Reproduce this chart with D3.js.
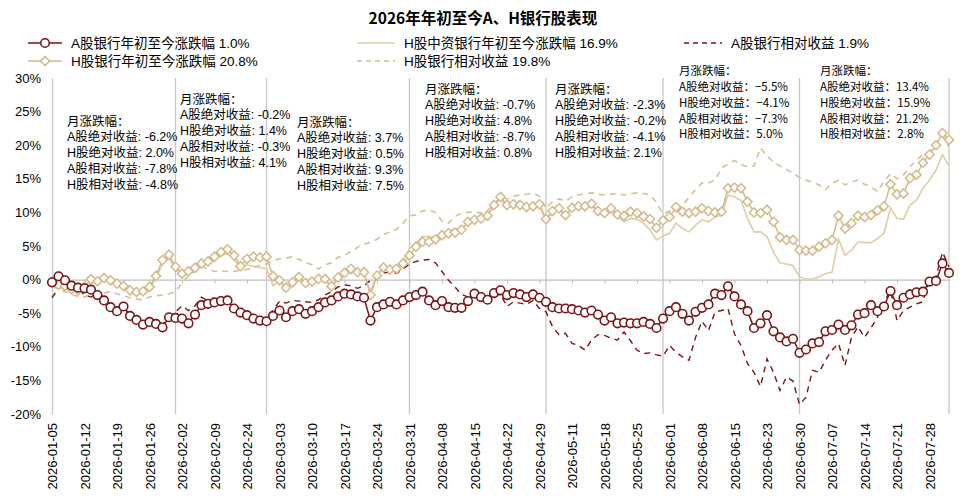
<!DOCTYPE html>
<html lang="zh">
<head>
<meta charset="utf-8">
<title>2026年年初至今A、H银行股表现</title>
<script src="https://cdn.jsdelivr.net/npm/d3@7"></script>
<style>
  body { margin: 0; background: #fff; }
  text { font-family: "Liberation Sans", Arial, "Noto Sans CJK SC", sans-serif; fill: #000; }
</style>
</head>
<body>
<script>
// trading days (category axis)
var dates = [
  "2026-01-05","2026-01-06","2026-01-07","2026-01-08","2026-01-09","2026-01-12","2026-01-13","2026-01-14","2026-01-15","2026-01-16",
  "2026-01-19","2026-01-20","2026-01-21","2026-01-22","2026-01-23","2026-01-26","2026-01-27","2026-01-28","2026-01-29","2026-01-30",
  "2026-02-02","2026-02-03","2026-02-04","2026-02-05","2026-02-06","2026-02-09","2026-02-10","2026-02-11","2026-02-12","2026-02-13",
  "2026-02-24","2026-02-25","2026-02-26","2026-02-27",
  "2026-03-02","2026-03-03","2026-03-04","2026-03-05","2026-03-06","2026-03-09","2026-03-10","2026-03-11","2026-03-12","2026-03-13",
  "2026-03-16","2026-03-17","2026-03-18","2026-03-19","2026-03-20","2026-03-23","2026-03-24","2026-03-25","2026-03-26","2026-03-27",
  "2026-03-30","2026-03-31",
  "2026-04-01","2026-04-02","2026-04-03","2026-04-07","2026-04-08","2026-04-09","2026-04-10","2026-04-13","2026-04-14","2026-04-15",
  "2026-04-16","2026-04-17","2026-04-20","2026-04-21","2026-04-22","2026-04-23","2026-04-24","2026-04-27","2026-04-28","2026-04-29",
  "2026-04-30",
  "2026-05-06","2026-05-07","2026-05-08","2026-05-11","2026-05-12","2026-05-13","2026-05-14","2026-05-15","2026-05-18","2026-05-19",
  "2026-05-20","2026-05-21","2026-05-22","2026-05-25","2026-05-26","2026-05-27","2026-05-28","2026-05-29",
  "2026-06-01","2026-06-02","2026-06-03","2026-06-04","2026-06-05","2026-06-08","2026-06-09","2026-06-10","2026-06-11","2026-06-12",
  "2026-06-15","2026-06-16","2026-06-17","2026-06-18","2026-06-22","2026-06-23","2026-06-24","2026-06-25","2026-06-26","2026-06-29",
  "2026-06-30",
  "2026-07-01","2026-07-02","2026-07-03","2026-07-06","2026-07-07","2026-07-08","2026-07-09","2026-07-10","2026-07-13","2026-07-14",
  "2026-07-15","2026-07-16","2026-07-17","2026-07-20","2026-07-21","2026-07-22","2026-07-23","2026-07-24","2026-07-27","2026-07-28",
  "2026-07-29","2026-07-30","2026-07-31"
];

// A股银行年初至今涨跌幅 (%)
var aYtd = [
  -0.4, 0.5,-0.1,-0.9,-1.2,-1.3,-1.5,-2.3,-3.1,-4.1,
  -4.7,-4.0,-5.4,-6.0,-6.7,-6.3,-6.6,-7.1,-5.6,-5.7,
  -5.8,-6.5,-5.2,-3.8,-3.6,-3.4,-3.2,-3.1,-4.3,-4.9,
  -5.3,-5.8,-6.1,-6.2,-5.4,-4.6,-5.6,-4.7,-4.4,-5.1,
  -4.7,-4.1,-3.4,-3.1,-2.5,-2.1,-2.2,-2.5,-2.7,-6.1,
  -4.1,-3.7,-3.3,-3.7,-3.1,-2.6,-2.3,-1.8,-3.1,-3.8,
  -3.2,-4.1,-4.2,-4.2,-3.2,-2.1,-2.6,-3.0,-2.0,-1.6,
  -2.3,-2.0,-2.2,-2.6,-2.2,-2.7,-3.3,-4.1,-4.3,-4.3,
  -4.4,-4.6,-4.9,-4.6,-5.2,-6.1,-5.6,-6.5,-6.4,-6.5,
  -6.5,-6.3,-6.6,-7.2,-5.8,-4.7,-4.1,-5.1,-6.1,-4.8,
  -4.2,-3.7,-2.1,-2.3,-1.0,-2.5,-3.7,-4.7,-7.2,-6.5,
  -5.3,-7.7,-8.6,-9.2,-8.8,-10.9,-10.4,-9.5,-9.3,-7.7,
  -7.5,-6.7,-7.5,-6.8,-5.2,-5.0,-3.8,-4.7,-4.0,-1.7,
  -3.8,-2.7,-2.2,-1.9,-1.8,-0.3,-0.2, 2.4, 1.0
];

// H股中资银行年初至今涨跌幅 (%)
var hcYtd = [
  -0.4,-0.8,-1.0,-1.5,-1.7,-1.2,-0.2,-0.5,-0.1,-0.4,
  -0.9,-1.3,-1.9,-2.2,-2.1,-1.5, 0.2, 2.4, 3.2, 1.5,
   0.6, 0.9, 1.3, 2.1, 2.3, 2.9, 3.6, 3.9, 3.0, 1.8,
   2.2, 2.0, 1.8, 1.6,-0.9,-0.3,-1.3,-0.6, 0.1,-0.7,
  -0.4,-0.1,-0.1,-1.1, 0.1, 0.8, 1.4, 0.8, 0.8,-1.8,
   0.8, 1.6, 1.3, 1.6, 2.9, 4.6, 5.4, 6.4, 6.4, 6.2,
   6.9, 7.2, 7.6, 7.6, 8.5, 8.8, 9.2, 9.6,11.0,12.0,
  10.9,11.0,10.9,10.6,10.7,11.0, 8.8,10.0,10.4, 9.4,
  10.5,10.7,10.7,11.1,10.0, 9.7,10.3, 9.3, 8.6, 9.1,
   9.0, 8.4, 7.4, 5.9, 6.5, 6.9, 8.4, 7.6, 7.1, 8.1,
   8.9, 8.6, 9.3, 9.6,12.6,12.3,11.8, 9.1, 7.1, 7.1,
   6.4, 4.1, 2.5, 2.3, 2.1, 0.4, 0.1, 0.1, 0.4, 0.9,
   1.1, 6.0, 3.6, 4.4, 5.6, 5.5, 5.5, 6.1, 6.9,10.7,
   9.1, 9.0,11.1,11.8,13.6,14.8,16.3,18.6,16.9
];

// A股银行相对收益 (%)
var aRel = [
  -2.7,-1.3,-1.0,-1.2,-1.4,-2.3,-2.6,-2.0,-2.9,-3.8,
  -4.5,-4.1,-5.2,-5.8,-6.4,-6.1,-6.3,-6.8,-5.6,-4.8,
  -3.9,-4.6,-3.9,-2.6,-3.2,-3.4,-3.0,-3.3,-4.1,-4.6,
  -5.0,-5.4,-5.7,-5.8,-4.6,-3.2,-3.5,-3.1,-3.2,-3.3,
  -3.4,-3.0,-2.3,-1.8,-1.1,-0.8,-0.9,-1.3,-0.9,-0.1,
   0.5, 1.0, 1.1, 0.9, 1.6, 2.3, 2.7, 2.9, 3.0, 2.5,
   1.2,-0.1,-1.1,-2.2,-2.6,-2.4,-2.6,-3.0,-2.5,-2.2,
  -4.0,-3.3,-3.5,-3.7,-3.1,-4.3,-4.8,-7.0,-8.2,-8.0,
  -9.5,-9.8,-10.5,-9.0,-8.2,-8.3,-8.7,-9.0,-7.8,-9.1,
  -10.5,-11.0,-10.9,-11.2,-11.4,-9.8,-10.8,-11.5,-12.0,-8.6,
  -6.2,-7.6,-4.8,-4.6,-4.3,-8.1,-9.8,-12.5,-13.8,-15.9,
  -11.8,-13.8,-16.5,-14.5,-15.1,-18.6,-17.5,-13.5,-13.8,-12.0,
  -10.5,-9.5,-12.8,-8.6,-7.0,-8.6,-7.2,-5.6,-3.3,-1.6,
  -6.1,-4.6,-4.1,-3.6,-3.3, 0.1, 0.4, 4.1, 1.9
];

// H股银行年初至今涨跌幅 (%)
var hYtd = [
  -0.35,-0.75,-0.95,-1.4,-1.6,-1.1, 0.05,-0.25, 0.25,-0.1,
  -0.6,-0.95,-1.6,-1.85,-1.75,-1.1, 0.55, 2.9, 3.7, 1.9,
   0.9, 1.25, 1.75, 2.4, 2.7, 3.4, 4.1, 4.5, 3.6, 2.0,
   3.1, 3.4, 3.3, 3.4, 0.5,-0.1,-1.2,-0.4, 0.4,-0.5,
  -0.3, 0.1, 0.1,-1.0, 0.3, 1.0, 1.6, 1.1, 1.1,-2.3,
   0.6, 1.8, 1.5, 1.6, 2.4, 3.6, 4.9, 5.6, 5.6, 6.0,
   6.6, 6.9, 7.0, 7.4, 8.6, 8.9, 9.1, 9.5,11.1,12.3,
  11.1,11.2,11.1,10.8,10.9,11.2, 9.0,10.2,10.6, 9.6,
  10.7,10.9,10.9,11.3,10.2, 9.9,10.6, 9.7, 9.5,10.1,
   9.9, 9.4, 9.0, 7.7, 8.8, 9.3,10.8,10.1, 9.9,10.1,
  10.6,10.2,10.0,10.1,13.6,13.7,13.6,11.6,10.0, 9.9,
  10.4, 8.6, 6.3, 5.9, 5.9, 4.4, 4.3, 4.3, 4.9, 5.4,
   5.9, 9.5, 7.6, 8.4, 9.5, 9.3, 9.6,10.3,10.9,14.2,
  12.7,12.8,15.1,15.6,17.4,18.6,20.0,21.8,20.8
];

// H股银行相对收益 (%)
var hRel = [
  -1.0,-1.4,-1.8,-2.2,-2.5,-2.6,-2.2,-2.4,-2.0,-1.8,
  -2.1,-2.4,-2.7,-2.9,-3.0,-2.6,-2.4,-2.3,-2.1,-1.8,
  -0.5, 0.6, 1.3, 1.9, 1.6, 1.2, 1.3, 1.2, 1.2, 1.4,
   1.5, 1.8, 2.1, 2.3, 2.8, 3.1, 3.2, 3.4, 3.0, 2.6,
   2.2, 1.6, 2.2, 2.5, 3.3, 3.6, 4.2, 4.8, 5.3, 5.5,
   6.0, 6.7, 7.1, 7.5, 8.4, 9.5, 9.6,10.2,10.4,10.0,
   8.7, 8.4, 9.4, 9.9,10.0,10.1, 9.9,10.3,11.2,12.3,
  12.0,12.4,12.6,12.7,12.9,12.4,10.6,11.6,12.0,11.7,
  12.3,12.6,12.8,12.9,12.7,12.6,12.7,12.8,12.6,12.8,
  12.9,12.8,12.6,11.5, 9.8,10.2,10.6,11.1,12.2,13.4,
  14.4,14.4,14.8,16.6,17.2,17.7,17.1,16.8,16.9,19.6,
  18.4,17.5,16.9,16.4,15.8,15.2,14.8,14.5,14.1,13.4,
  14.3,14.8,14.1,14.5,14.8,14.2,13.8,13.1,14.6,15.8,
  15.0,15.6,16.8,17.8,18.6,19.1,20.2,21.4,19.8
];

var yTicks = [-20, -15, -10, -5, 0, 5, 10, 15, 20, 25, 30];

var legendLabels = [
  "A股银行年初至今涨跌幅 1.0%",
  "H股中资银行年初至今涨跌幅 16.9%",
  "A股银行相对收益 1.9%",
  "H股银行年初至今涨跌幅 20.8%",
  "H股银行相对收益 19.8%"
];

// monthly notes, Jan..Jul
var monthNotes = [
  ["月涨跌幅：", "A股绝对收益: -6.2%", "H股绝对收益: 2.0%", "A股相对收益: -7.8%", "H股相对收益: -4.8%"],
  ["月涨跌幅：", "A股绝对收益: -0.2%", "H股绝对收益: 1.4%", "A股相对收益: -0.3%", "H股相对收益: 4.1%"],
  ["月涨跌幅：", "A股绝对收益: 3.7%", "H股绝对收益: 0.5%", "A股相对收益: 9.3%", "H股相对收益: 7.5%"],
  ["月涨跌幅：", "A股绝对收益: -0.7%", "H股绝对收益: 4.8%", "A股相对收益: -8.7%", "H股相对收益: 0.8%"],
  ["月涨跌幅：", "A股绝对收益: -2.3%", "H股绝对收益: -0.2%", "A股相对收益: -4.1%", "H股相对收益: 2.1%"],
  ["月涨跌幅：", "A股绝对收益：−5.5%", "H股绝对收益：−4.1%", "A股相对收益：−7.3%", "H股相对收益：5.0%"],
  ["月涨跌幅：", "A股绝对收益：13.4%", "H股绝对收益：15.9%", "A股相对收益：21.2%", "H股相对收益：2.8%"]
];

var w = 966, h = 498;
var darkRed = "#7a1616", tan = "#d6b88a", tanLight = "#dfcda6", tanDash = "#d8be96";

var svg = d3.select("body").append("svg")
  .attr("width", w)
  .attr("height", h);

var x = d3.scalePoint().domain(dates).range([52, 949]);
var y = d3.scaleLinear().domain([-20, 30]).range([414, 78]);

// title
svg.append("text")
  .attr("x", 483).attr("y", 24)
  .attr("text-anchor", "middle")
  .style("font-family", "'Noto Sans CJK SC', sans-serif")
  .style("font-weight", "bold")
  .style("font-size", "15.5px")
  .text("2026年年初至今A、H银行股表现");

// month separators at the last trading day of each month
var monthEnds = dates.filter(function(d, i) {
  return i === dates.length - 1 || dates[i + 1].slice(5, 7) !== d.slice(5, 7);
});
svg.append("g").selectAll("line")
  .data(monthEnds)
  .enter().append("line")
  .attr("x1", function(d) { return x(d); })
  .attr("x2", function(d) { return x(d); })
  .attr("y1", y(30)).attr("y2", y(-20))
  .attr("stroke", "#c8c8c8")
  .attr("stroke-width", 1.3);

// y axis
var yAxis = svg.append("g")
  .attr("transform", "translate(52,0)")
  .call(d3.axisLeft(y).tickValues(yTicks).tickFormat(function(d) { return d + "%"; })
    .tickSize(0).tickPadding(11));
yAxis.select(".domain").attr("stroke", "#c8c8c8").attr("stroke-width", 1.3);
yAxis.selectAll("text").style("font-size", "13px").style("fill", "#000");

// zero axis with small ticks
var labelDates = dates.filter(function(d, i) { return i % 5 === 0; });
var zeroAxis = svg.append("g")
  .attr("transform", "translate(0," + y(0) + ")")
  .call(d3.axisBottom(x).tickValues(labelDates).tickSize(4).tickSizeOuter(0).tickFormat(""));
zeroAxis.select(".domain").attr("stroke", "#c0c0c0").attr("stroke-width", 1.3);
zeroAxis.selectAll(".tick line").attr("stroke", "#c0c0c0");

// date labels at the bottom
var xAxis = svg.append("g")
  .attr("transform", "translate(0," + y(-20) + ")")
  .call(d3.axisBottom(x).tickValues(labelDates).tickSize(0));
xAxis.select(".domain").remove();
xAxis.selectAll("text")
  .attr("transform", "rotate(-90)")
  .attr("x", -9).attr("y", 0).attr("dy", "0.36em")
  .style("text-anchor", "end")
  .style("font-size", "13px")
  .style("fill", "#000");

// series
function lineOf(values) {
  return d3.line()
    .x(function(d, i) { return x(dates[i]); })
    .y(function(d) { return y(d); })(values);
}

svg.append("path").attr("d", lineOf(hcYtd))
  .attr("fill", "none").attr("stroke", tanLight).attr("stroke-width", 1.6);
svg.append("path").attr("d", lineOf(hRel))
  .attr("fill", "none").attr("stroke", tanDash).attr("stroke-width", 1.6)
  .attr("stroke-dasharray", "6,5");
svg.append("path").attr("d", lineOf(aRel))
  .attr("fill", "none").attr("stroke", darkRed).attr("stroke-width", 1.4)
  .attr("stroke-dasharray", "6,5");

svg.append("path").attr("d", lineOf(hYtd))
  .attr("fill", "none").attr("stroke", tan).attr("stroke-width", 1.5);
var diamond = d3.symbol().type(d3.symbolSquare).size(42)();
svg.append("g").selectAll("path")
  .data(hYtd)
  .enter().append("path")
  .attr("d", diamond)
  .attr("transform", function(d, i) { return "translate(" + x(dates[i]) + "," + y(d) + ") rotate(45)"; })
  .attr("fill", "#fff").attr("stroke", tan).attr("stroke-width", 1.5);

svg.append("path").attr("d", lineOf(aYtd))
  .attr("fill", "none").attr("stroke", darkRed).attr("stroke-width", 1.5);
svg.append("g").selectAll("circle")
  .data(aYtd)
  .enter().append("circle")
  .attr("cx", function(d, i) { return x(dates[i]); })
  .attr("cy", function(d) { return y(d); })
  .attr("r", 4.3)
  .attr("fill", "#fff").attr("stroke", darkRed).attr("stroke-width", 1.6);

// monthly notes
var notePos = [[67, 121], [180, 99], [297, 122], [425, 89], [555, 89], [679, 71], [820, 71]];
monthNotes.forEach(function(lines, m) {
  var cjk = m >= 5;
  svg.append("g").selectAll("text")
    .data(lines)
    .enter().append("text")
    .attr("x", notePos[m][0])
    .attr("y", function(d, i) { return notePos[m][1] + i * 15.8; })
    .attr("dy", "0.36em")
    .style("font-size", cjk ? "11.5px" : "12.5px")
    .style("font-family", cjk ? "'Noto Sans CJK SC', sans-serif" : null)
    .text(function(d) { return d; });
});

// legend
var legendPos = [[28, 43], [357, 43], [684, 43], [28, 61], [357, 61]];
var legendStyle = [
  { color: darkRed, dash: null, mark: "circle" },
  { color: tanLight, dash: null, mark: null },
  { color: darkRed, dash: "5,4", mark: null },
  { color: tan, dash: null, mark: "diamond" },
  { color: tanDash, dash: "5,4", mark: null }
];
legendLabels.forEach(function(label, k) {
  var g = svg.append("g").attr("transform", "translate(" + legendPos[k][0] + "," + legendPos[k][1] + ")");
  var st = legendStyle[k];
  var len = k % 3 === 0 ? 34 : 38;
  g.append("line").attr("x1", 0).attr("x2", len).attr("y1", 0).attr("y2", 0)
    .attr("stroke", st.color).attr("stroke-width", 1.6)
    .attr("stroke-dasharray", st.dash);
  if (st.mark === "circle") {
    g.append("circle").attr("cx", len / 2).attr("cy", 0).attr("r", 4.3)
      .attr("fill", "#fff").attr("stroke", st.color).attr("stroke-width", 1.6);
  } else if (st.mark === "diamond") {
    g.append("path").attr("d", diamond)
      .attr("transform", "translate(" + (len / 2) + ",0) rotate(45)")
      .attr("fill", "#fff").attr("stroke", st.color).attr("stroke-width", 1.5);
  }
  g.append("text").attr("x", len + 9).attr("y", 0).attr("dy", "0.36em")
    .style("font-size", "13.5px")
    .text(label);
});
</script>
</body>
</html>
